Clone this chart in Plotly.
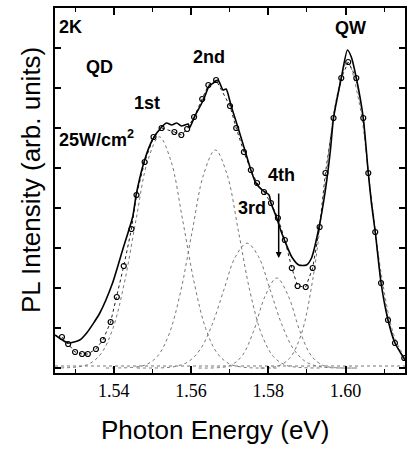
import plotly.graph_objects as go

# Experimental PL spectrum (solid line)
exp_x = [1.5248, 1.5282, 1.5312, 1.5330, 1.5364, 1.5397, 1.5423, 1.5449, 1.5459, 1.5480,
         1.5500, 1.5524, 1.5537, 1.5550, 1.5563, 1.5575, 1.5593, 1.5596, 1.5609, 1.5632,
         1.5647, 1.5658, 1.5670, 1.5683, 1.5691, 1.5704, 1.5722, 1.5737, 1.5755, 1.5768,
         1.5784, 1.5802, 1.5807, 1.5822, 1.5832, 1.5845, 1.5861, 1.5879, 1.5899, 1.5912,
         1.5930, 1.5948, 1.5961, 1.5969, 1.5989, 1.6005, 1.6015, 1.6028, 1.6046, 1.6059,
         1.6067, 1.6077, 1.6092, 1.6110, 1.6128, 1.6154]
exp_y = [0.825, 0.625, 0.70, 0.875, 1.375, 2.125, 2.95, 3.775, 4.375, 5.20,
         5.70, 6.025, 6.125, 6.075, 6.125, 6.05, 6.10, 6.00, 6.275, 6.70,
         7.05, 7.125, 7.20, 6.95, 6.975, 6.55, 6.00, 5.525, 4.95, 4.625,
         4.45, 4.325, 4.125, 3.75, 3.45, 3.125, 2.775, 2.575, 2.575, 2.75,
         3.45, 4.45, 5.45, 6.25, 7.25, 7.95, 7.775, 7.25, 6.25, 4.875,
         4.125, 3.40, 2.125, 1.20, 0.625, 0.20]

# Fitted sum (dotted line with symbols)
fit_x = [1.5266, 1.5282, 1.5300, 1.5318, 1.5333, 1.5354, 1.5372, 1.5392, 1.5408, 1.5426,
         1.5446, 1.5459, 1.5480, 1.5503, 1.5524, 1.5557, 1.5575, 1.5590, 1.5608, 1.5629,
         1.5645, 1.5665, 1.5701, 1.5717, 1.5737, 1.5755, 1.5771, 1.5789, 1.5807, 1.5825,
         1.5843, 1.5861, 1.5876, 1.5897, 1.5915, 1.5933, 1.5948, 1.5969, 1.5989, 1.6007,
         1.6028, 1.6046, 1.6059, 1.6077, 1.6092, 1.6110, 1.6128, 1.6152]
fit_y = [0.775, 0.60, 0.40, 0.35, 0.35, 0.475, 0.70, 1.15, 1.775, 2.55,
         3.475, 4.325, 5.15, 5.775, 6.00, 5.90, 5.825, 5.975, 6.275, 6.725,
         7.075, 7.20, 6.55, 6.00, 5.40, 4.95, 4.625, 4.40, 4.125, 3.75,
         3.20, 2.50, 2.05, 2.025, 2.50, 3.525, 4.875, 6.25, 7.25, 7.65,
         7.25, 6.25, 4.875, 3.40, 2.125, 1.20, 0.625, 0.25]

# Gaussian components
g1_x = [1.5248, 1.5308, 1.5338, 1.5368, 1.5398, 1.5428, 1.5458, 1.5488, 1.5518, 1.5548,
        1.5578, 1.5608, 1.5638, 1.5668, 1.5698, 1.5728, 1.5768, 1.5830]
g1_y = [0.0, 0.03, 0.11, 0.37, 0.99, 2.15, 3.72, 5.18, 5.78, 5.18,
        3.72, 2.15, 0.99, 0.37, 0.11, 0.03, 0.0, 0.0]
g2_x = [1.5380, 1.5453, 1.5483, 1.5513, 1.5543, 1.5573, 1.5603, 1.5633, 1.5663, 1.5693,
        1.5723, 1.5753, 1.5783, 1.5813, 1.5843, 1.5873, 1.5940]
g2_y = [0.0, 0.02, 0.08, 0.29, 0.84, 1.90, 3.41, 4.85, 5.45, 4.85,
        3.41, 1.90, 0.84, 0.29, 0.08, 0.02, 0.0]
g3_x = [1.5460, 1.5535, 1.5565, 1.5595, 1.5625, 1.5655, 1.5685, 1.5715, 1.5745, 1.5775,
        1.5805, 1.5835, 1.5865, 1.5895, 1.5925, 1.5955, 1.6030]
g3_y = [0.0, 0.01, 0.05, 0.17, 0.48, 1.09, 1.95, 2.78, 3.12, 2.78,
        1.95, 1.09, 0.48, 0.17, 0.05, 0.01, 0.0]
g4_x = [1.5620, 1.5672, 1.5702, 1.5732, 1.5762, 1.5792, 1.5822, 1.5852, 1.5882, 1.5912,
        1.5942, 1.5972, 1.6030]
g4_y = [0.0, 0.01, 0.065, 0.30, 0.92, 1.80, 2.25, 1.80, 0.92, 0.30,
        0.065, 0.01, 0.0]
qw_x = [1.5780, 1.5825, 1.5855, 1.5885, 1.5915, 1.5945, 1.5975, 1.6005, 1.6035, 1.6065,
        1.6095, 1.6125, 1.6154]
qw_y = [0.0, 0.05, 0.24, 0.83, 2.20, 4.40, 6.66, 7.65, 6.66, 4.40,
        2.20, 0.83, 0.24]
bg_x = [1.5248, 1.6154]
bg_y = [0.05, 0.05]

x_ticks = [1.54, 1.56, 1.58, 1.60]
x_tick_text = ["1.54", "1.56", "1.58", "1.60"]

fig = go.Figure()
for gx, gy in [(bg_x, bg_y), (g1_x, g1_y), (g2_x, g2_y), (g3_x, g3_y), (g4_x, g4_y), (qw_x, qw_y)]:
    fig.add_trace(go.Scatter(x=gx, y=gy, mode="lines", line=dict(color="#777777", width=1, dash="dot", shape="spline"),
                             showlegend=False, hoverinfo="skip"))
fig.add_trace(go.Scatter(x=fit_x, y=fit_y, mode="lines+markers",
                         line=dict(color="#222222", width=1, dash="dot"),
                         marker=dict(symbol="circle-open", size=5, color="black", line=dict(width=1.2)),
                         showlegend=False))
fig.add_trace(go.Scatter(x=exp_x, y=exp_y, mode="lines", line=dict(color="black", width=1.6, shape="spline", smoothing=0.6),
                         showlegend=False))

lab_font = dict(family="Liberation Sans, Arial", size=18, color="black")
labels = [("<b>2K</b>", 1.5253, 8.525, "left"),
          ("<b>QW</b>", 1.6013, 8.5, "center"),
          ("<b>QD</b>", 1.5364, 7.525, "center"),
          ("<b>2nd</b>", 1.5647, 7.775, "center"),
          ("<b>1st</b>", 1.5485, 6.625, "center"),
          ("<b>25W/cm<sup>2</sup></b>", 1.5356, 5.75, "center"),
          ("<b>4th</b>", 1.5835, 4.825, "center"),
          ("<b>3rd</b>", 1.5758, 4.0, "center")]
for t, x, y, xa in labels:
    fig.add_annotation(x=x, y=y, text=t, showarrow=False, xanchor=xa, yanchor="middle", font=lab_font)

fig.add_annotation(x=1.5827, y=2.75, ax=1.5827, ay=4.4, axref="x", ayref="y", xref="x", yref="y",
                   text="", showarrow=True, arrowhead=2, arrowsize=0.8, arrowwidth=1.5, arrowcolor="black")

# Axis titles placed as annotations for exact positioning
fig.add_annotation(xref="paper", yref="paper", x=0.457, y=-0.156, text="Photon Energy (eV)",
                   showarrow=False, xanchor="center", yanchor="middle",
                   font=dict(family="Liberation Sans, Arial", size=26, color="black"))
fig.add_annotation(xref="paper", yref="paper", x=-0.068, y=0.529, text="PL Intensity (arb. units)",
                   showarrow=False, xanchor="center", yanchor="middle", textangle=-90,
                   font=dict(family="Liberation Sans, Arial", size=26, color="black"))

fig.update_layout(
    width=411, height=450,
    margin=dict(l=55, r=4, t=8, b=77),
    plot_bgcolor="white", paper_bgcolor="white",
    font=dict(family="Liberation Sans, Arial", color="black"),
)
fig.update_xaxes(range=[1.5248, 1.6154], tickvals=x_ticks, ticktext=x_tick_text,
                 ticks="inside", ticklen=7, tickwidth=1.5, tickcolor="black",
                 minor=dict(dtick=0.01, tick0=1.54, ticks="inside", ticklen=4, tickwidth=1, tickcolor="black"),
                 showline=True, linewidth=2, linecolor="black", mirror="ticks",
                 showgrid=False, zeroline=False,
                 tickfont=dict(family="Liberation Serif, Times New Roman", size=18, color="black"))
fig.update_yaxes(range=[-0.125, 9.0], tick0=0, dtick=1, showticklabels=False,
                 ticks="inside", ticklen=6, tickwidth=1.5, tickcolor="black",
                 showline=True, linewidth=2, linecolor="black", mirror="ticks",
                 showgrid=False, zeroline=False)

fig.write_html("out.html")
